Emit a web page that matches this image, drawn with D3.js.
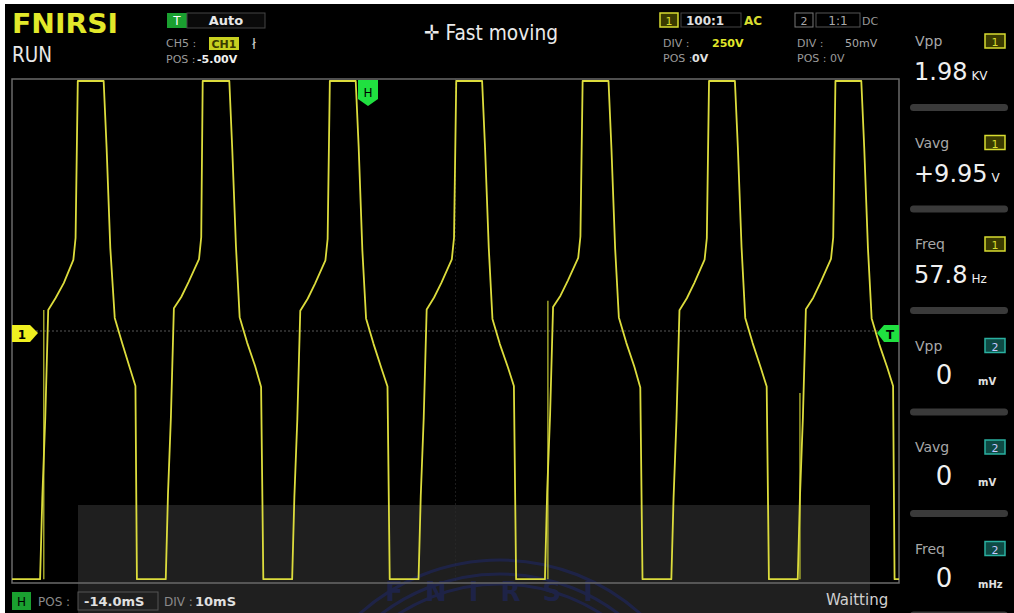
<!DOCTYPE html>
<html>
<head>
<meta charset="utf-8">
<script src="https://cdn.jsdelivr.net/npm/d3@7"></script>
<style>
  body { margin: 0; background: #000; }
  svg { display: block; }
  text { font-family: "DejaVu Sans", sans-serif; }
</style>
</head>
<body>
<script>
// channel 1 trace, time in ms (0..120 across the screen), voltage in V
var traceTime = [
  0, 3.8, 4.1, 4.5, 4.9, 5.9, 7.0, 8.3, 8.6, 8.9, 12.4, 12.8, 13.3, 13.9, 14.9, 15.9, 16.7, 16.9,
  20.8, 21.1, 21.5, 21.9, 22.9, 23.9, 25.3, 25.6, 25.8, 29.4, 29.8, 30.3, 30.8, 31.8, 32.9, 33.7, 34.0,
  37.9, 38.2, 38.6, 39.0, 40.0, 41.0, 42.4, 42.7, 43.0, 46.5, 46.9, 47.4, 47.9, 48.9, 50.0, 50.8, 51.1,
  55.0, 55.3, 55.7, 56.1, 57.1, 58.1, 59.5, 59.8, 60.1, 63.6, 64.0, 64.5, 65.0, 66.0, 67.1, 67.9, 68.2,
  72.1, 72.4, 72.8, 73.2, 74.2, 75.2, 76.6, 76.9, 77.2, 80.7, 81.1, 81.6, 82.1, 83.1, 84.2, 85.0, 85.3,
  89.2, 89.5, 89.9, 90.3, 91.3, 92.3, 93.7, 94.0, 94.3, 97.8, 98.2, 98.7, 99.2, 100.2, 101.3, 102.1, 102.4,
  106.3, 106.6, 107.0, 107.4, 108.4, 109.4, 110.8, 111.1, 111.4, 114.9, 115.3, 115.8, 116.3, 117.3, 118.4, 119.2, 119.4,
  120
];
var traceVolt = [
  -985, -985, -663, -345, 83, 131, 190, 282, 369, 992, 992, 726, 329, 52, -48, -143, -218, -985,
  -985, -650, -340, 90, 135, 195, 285, 372, 992, 992, 720, 335, 55, -45, -140, -222, -985,
  -985, -660, -350, 80, 128, 188, 280, 365, 992, 992, 730, 320, 50, -50, -150, -220, -985,
  -985, -655, -345, 85, 133, 192, 284, 370, 992, 992, 725, 330, 48, -52, -145, -218, -985,
  -985, -640, -330, 95, 140, 200, 290, 375, 992, 992, 722, 326, 54, -46, -142, -224, -985,
  -985, -665, -348, 82, 130, 190, 283, 368, 992, 992, 728, 332, 52, -48, -146, -220, -985,
  -985, -658, -342, 86, 132, 194, 286, 370, 992, 992, 724, 328, 50, -50, -144, -218, -985,
  -985
];

// short ghost strokes left by the persistence
var ghostTime = [4.3, 72.5, 106.6];
var ghostTop = [83, 120, -246];
var ghostBottom = [-985, -985, -985];

var measLabels = ["Vpp", "Vavg", "Freq", "Vpp", "Vavg", "Freq"];
var measChannels = ["1", "1", "1", "2", "2", "2"];
var measValues = ["1.98", "+9.95", "57.8", "0", "0", "0"];
var measUnits = ["KV", "V", "Hz", "mV", "mV", "mHz"];

var width = 1014, height = 613;
var plot = {left: 12, right: 899, top: 79, bottom: 583};

var svg = d3.select("body").append("svg")
    .attr("width", width)
    .attr("height", height);

svg.append("rect").attr("width", width).attr("height", height).attr("fill", "#000");
// photo margin
svg.append("rect").attr("width", width).attr("height", 4).attr("fill", "#fff");
svg.append("rect").attr("width", 5).attr("height", height).attr("fill", "#fff");

var xScale = d3.scaleLinear().domain([0, 120]).range([plot.left, plot.right]);
var yScale = d3.scaleLinear().domain([-1000, 1000]).range([plot.bottom, plot.top]);

// grid: centre lines only
svg.append("line")
    .attr("x1", plot.left).attr("x2", plot.right)
    .attr("y1", yScale(0)).attr("y2", yScale(0))
    .attr("stroke", "#3a3a3a").attr("stroke-width", 1.5).attr("stroke-dasharray", "2,2");
svg.append("line")
    .attr("x1", xScale(60)).attr("x2", xScale(60))
    .attr("y1", plot.top).attr("y2", plot.bottom)
    .attr("stroke", "#1c1c1c").attr("stroke-width", 1).attr("stroke-dasharray", "2,2");

// watermark area
svg.append("rect")
    .attr("x", 78).attr("y", 505).attr("width", 792).attr("height", 108)
    .attr("fill", "#2a2a2a").attr("opacity", 0.75);
var wm = svg.append("g").attr("opacity", 0.45);
[210, 196, 186].forEach(function(r) {
  wm.append("circle").attr("cx", 500).attr("cy", 770).attr("r", r)
    .attr("fill", "none").attr("stroke", "#1e2a78").attr("stroke-width", 3);
});
wm.append("text")
    .attr("x", 500).attr("y", 601)
    .attr("text-anchor", "middle")
    .attr("font-family", "Liberation Serif, serif")
    .attr("font-size", 26).attr("font-weight", "bold")
    .attr("letter-spacing", 22)
    .attr("fill", "#1e2a78")
    .text("FNIRSI");

// screen border
svg.append("rect")
    .attr("x", plot.left).attr("y", plot.top)
    .attr("width", plot.right - plot.left).attr("height", plot.bottom - plot.top)
    .attr("fill", "none").attr("stroke", "#6a6a6a").attr("stroke-width", 1.5);

// trace
var pts = traceTime.map(function(t, i) { return [t, traceVolt[i]]; });
var line = d3.line()
    .x(function(d) { return xScale(d[0]); })
    .y(function(d) { return yScale(d[1]); });

svg.selectAll(".ghost")
    .data(ghostTime)
    .enter().append("line")
    .attr("class", "ghost")
    .attr("x1", function(d) { return xScale(d); })
    .attr("x2", function(d) { return xScale(d); })
    .attr("y1", function(d, i) { return yScale(ghostTop[i]); })
    .attr("y2", function(d, i) { return yScale(ghostBottom[i]); })
    .attr("stroke", "#b8bc30").attr("stroke-width", 1.3);

svg.append("path")
    .datum(pts)
    .attr("d", line)
    .attr("fill", "none")
    .attr("stroke", "#dcdc3c")
    .attr("stroke-width", 1.8)
    .attr("stroke-linejoin", "round");

// markers
svg.append("path")
    .attr("d", "M12,325 L30,325 L38,333 L30,342 L12,342 Z")
    .attr("fill", "#f0f020");
svg.append("text").attr("x", 22).attr("y", 339).attr("text-anchor", "middle")
    .attr("font-size", 12).attr("font-weight", "bold").attr("fill", "#000").text("1");

svg.append("path")
    .attr("d", "M899,325 L884,325 L877,333 L884,342 L899,342 Z")
    .attr("fill", "#20e040");
svg.append("text").attr("x", 890).attr("y", 339).attr("text-anchor", "middle")
    .attr("font-size", 12).attr("font-weight", "bold").attr("fill", "#000").text("T");

svg.append("path")
    .attr("d", "M358,80 L378,80 L378,99 L368,106 L358,99 Z")
    .attr("fill", "#20e040");
svg.append("text").attr("x", 368).attr("y", 97).attr("text-anchor", "middle")
    .attr("font-size", 12).attr("fill", "#000").text("H");

// header, left
svg.append("text").attr("x", 12).attr("y", 33)
    .attr("font-size", 27).attr("font-weight", "bold")
    .attr("textLength", 106).attr("lengthAdjust", "spacingAndGlyphs")
    .attr("fill", "#e2e82a").text("FNIRSI");
svg.append("text").attr("x", 12).attr("y", 62)
    .attr("font-size", 21).attr("fill", "#e8e8e8")
    .attr("textLength", 40).attr("lengthAdjust", "spacingAndGlyphs").text("RUN");

// trigger block
svg.append("rect").attr("x", 167).attr("y", 13).attr("width", 20).attr("height", 15).attr("fill", "#1aa030");
svg.append("text").attr("x", 177).attr("y", 25).attr("text-anchor", "middle")
    .attr("font-size", 12).attr("fill", "#fff").text("T");
svg.append("rect").attr("x", 187).attr("y", 13).attr("width", 78).attr("height", 15)
    .attr("fill", "#0a0a0a").attr("stroke", "#444");
svg.append("text").attr("x", 226).attr("y", 25).attr("text-anchor", "middle")
    .attr("font-size", 13).attr("font-weight", "bold").attr("fill", "#e8e8e8").text("Auto");
svg.append("text").attr("x", 166).attr("y", 47).attr("font-size", 11).attr("fill", "#9a9a9a").text("CH5 :");
svg.append("rect").attr("x", 209).attr("y", 37).attr("width", 30).attr("height", 13).attr("fill", "#c8d020");
svg.append("text").attr("x", 224).attr("y", 48).attr("text-anchor", "middle")
    .attr("font-size", 11).attr("font-weight", "bold").attr("fill", "#3a3a00").text("CH1");
svg.append("text").attr("x", 252).attr("y", 49).attr("font-size", 14).attr("fill", "#ccc").text("ł");
svg.append("text").attr("x", 166).attr("y", 63).attr("font-size", 11).attr("fill", "#9a9a9a").text("POS :");
svg.append("text").attr("x", 197).attr("y", 63).attr("font-size", 11).attr("font-weight", "bold").attr("fill", "#f0f0f0").text("-5.00V");

// centre status
svg.append("text").attr("x", 491).attr("y", 40).attr("text-anchor", "middle")
    .attr("font-size", 21).attr("fill", "#eaeaea")
    .attr("textLength", 134).attr("lengthAdjust", "spacingAndGlyphs")
    .text("\u271B Fast moving");

// ch1 block
svg.append("rect").attr("x", 660).attr("y", 13).attr("width", 18).attr("height", 14)
    .attr("fill", "#3a3a00").attr("stroke", "#d8dc30").attr("stroke-width", 1.5);
svg.append("text").attr("x", 669).attr("y", 25).attr("text-anchor", "middle")
    .attr("font-size", 11).attr("fill", "#d8dc30").text("1");
svg.append("rect").attr("x", 681).attr("y", 13).attr("width", 60).attr("height", 14)
    .attr("fill", "none").attr("stroke", "#444");
svg.append("text").attr("x", 686).attr("y", 25).attr("font-size", 12).attr("font-weight", "bold").attr("fill", "#e0e0e0").text("100:1");
svg.append("text").attr("x", 744).attr("y", 25).attr("font-size", 12).attr("font-weight", "bold").attr("fill", "#d8dc30").text("AC");
svg.append("text").attr("x", 663).attr("y", 47).attr("font-size", 11).attr("fill", "#9a9a9a").text("DIV :");
svg.append("text").attr("x", 712).attr("y", 47).attr("font-size", 11).attr("font-weight", "bold").attr("fill", "#e2e82a").text("250V");
svg.append("text").attr("x", 663).attr("y", 62).attr("font-size", 11).attr("fill", "#9a9a9a").text("POS :");
svg.append("text").attr("x", 692).attr("y", 62).attr("font-size", 11).attr("font-weight", "bold").attr("fill", "#e0e0e0").text("0V");

// ch2 block
svg.append("rect").attr("x", 795).attr("y", 13).attr("width", 18).attr("height", 14)
    .attr("fill", "none").attr("stroke", "#777");
svg.append("text").attr("x", 804).attr("y", 25).attr("text-anchor", "middle")
    .attr("font-size", 11).attr("fill", "#aaa").text("2");
svg.append("rect").attr("x", 816).attr("y", 13).attr("width", 44).attr("height", 14)
    .attr("fill", "none").attr("stroke", "#555");
svg.append("text").attr("x", 838).attr("y", 25).attr("text-anchor", "middle").attr("font-size", 12).attr("fill", "#aaa").text("1:1");
svg.append("text").attr("x", 862).attr("y", 25).attr("font-size", 11).attr("fill", "#999").text("DC");
svg.append("text").attr("x", 797).attr("y", 47).attr("font-size", 11).attr("fill", "#9a9a9a").text("DIV :");
svg.append("text").attr("x", 845).attr("y", 47).attr("font-size", 11).attr("fill", "#aaa").text("50mV");
svg.append("text").attr("x", 797).attr("y", 62).attr("font-size", 11).attr("fill", "#9a9a9a").text("POS : 0V");

// measurement panel
var panelTop = 18, slot = 101.5;
measLabels.forEach(function(lab, i) {
  var y0 = panelTop + i * slot;
  var ch1 = measChannels[i] === "1";
  svg.append("text").attr("x", 915).attr("y", y0 + 28).attr("font-size", 14).attr("fill", "#a8a8a8").text(lab);
  svg.append("rect").attr("x", 985).attr("y", y0 + 16).attr("width", 20).attr("height", 14)
      .attr("fill", ch1 ? "#3a3a00" : "#0e4a44")
      .attr("stroke", ch1 ? "#d8dc30" : "#2ab0a0").attr("stroke-width", 1.5);
  svg.append("text").attr("x", 995).attr("y", y0 + 28).attr("text-anchor", "middle")
      .attr("font-size", 11).attr("fill", ch1 ? "#d8dc30" : "#c8c8ff").text(measChannels[i]);
  if (ch1) {
    var v = svg.append("text").attr("x", 914).attr("y", y0 + 62)
        .attr("font-size", 24).attr("fill", "#f0f0f0");
    v.append("tspan").text(measValues[i]);
    v.append("tspan").attr("font-size", 12).attr("dx", 4).text(measUnits[i]);
  } else {
    svg.append("text").attr("x", 944).attr("y", y0 + 61).attr("text-anchor", "middle")
        .attr("font-size", 26).attr("fill", "#f0f0f0").text(measValues[i]);
    svg.append("text").attr("x", 978).attr("y", y0 + 62)
        .attr("font-size", 10).attr("font-weight", "bold")
        .attr("fill", "#e0e0e0").text(measUnits[i]);
  }
  svg.append("rect").attr("x", 910).attr("y", y0 + 86).attr("width", 98).attr("height", 7).attr("rx", 3.5)
      .attr("fill", "#3a3a3a");
});

// bottom bar
svg.append("rect").attr("x", 12).attr("y", 592).attr("width", 19).attr("height", 18).attr("fill", "#1aa030");
svg.append("text").attr("x", 21.5).attr("y", 606).attr("text-anchor", "middle").attr("font-size", 12).attr("fill", "#000").text("H");
svg.append("text").attr("x", 38).attr("y", 606).attr("font-size", 12).attr("fill", "#8a8a8a").text("POS :");
svg.append("rect").attr("x", 78).attr("y", 592).attr("width", 80).attr("height", 18).attr("fill", "none").attr("stroke", "#555");
svg.append("text").attr("x", 84).attr("y", 606).attr("font-size", 13).attr("font-weight", "bold").attr("fill", "#e0e0e0").text("-14.0mS");
svg.append("text").attr("x", 164).attr("y", 606).attr("font-size", 12).attr("fill", "#8a8a8a").text("DIV :");
svg.append("text").attr("x", 195).attr("y", 606).attr("font-size", 13).attr("font-weight", "bold").attr("fill", "#e0e0e0").text("10mS");
svg.append("text").attr("x", 826).attr("y", 605).attr("font-size", 15).attr("fill", "#d0d0d0").text("Waitting");
</script>
</body>
</html>
